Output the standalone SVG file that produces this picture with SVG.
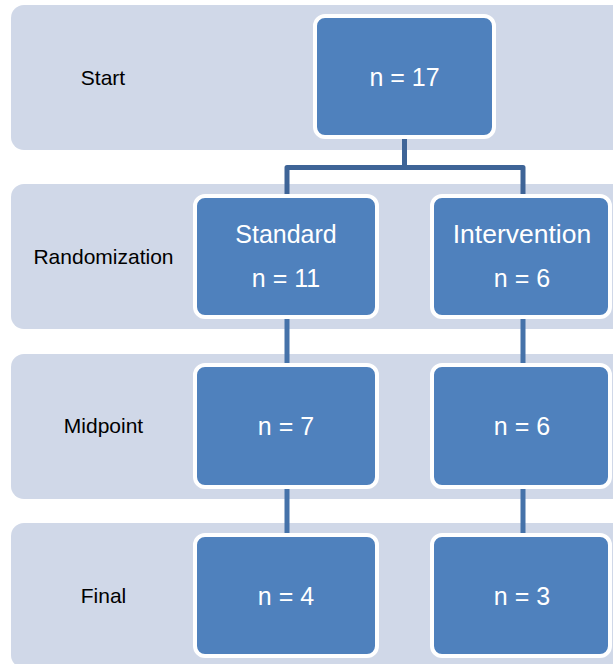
<svg xmlns="http://www.w3.org/2000/svg" width="613" height="664" viewBox="0 0 613 664">
  <style>
    .band { fill: #D0D8E8; }
    .node rect { fill: #4F81BD; stroke: #FFFFFF; stroke-width: 4; }
    .node text { fill: #FFFFFF; font-family: "Liberation Sans", Arial, sans-serif; font-size: 25px; text-anchor: middle; }
    .label { fill: #000000; font-family: "Liberation Sans", Arial, sans-serif; font-size: 21px; text-anchor: middle; }
    .conn { fill: none; stroke-width: 5; stroke-linejoin: round; }
  </style>
  <rect width="613" height="664" fill="#FFFFFF"/>
  <g id="bands">
    <rect class="band" x="11" y="5" width="630" height="145" rx="13"/>
    <rect class="band" x="11" y="184" width="630" height="145" rx="13"/>
    <rect class="band" x="11" y="354" width="630" height="145" rx="13"/>
    <rect class="band" x="11" y="523" width="630" height="145" rx="13"/>
  </g>
  <g id="labels">
    <text class="label" x="103" y="85">Start</text>
    <text class="label" x="103.5" y="264">Randomization</text>
    <text class="label" x="103.5" y="433">Midpoint</text>
    <text class="label" x="103.5" y="603">Final</text>
  </g>
  <g id="connectors">
    <path class="conn" stroke="#3E6497" d="M404.5,139 V167.5 M287,194 V167.5 H523 V194"/>
    <path class="conn" stroke="#4572A9" d="M287,319 V364 M523,319 V364 M287,489 V534 M523,489 V534"/>
  </g>
  <g id="node-start" class="node">
    <rect x="315" y="16" width="179" height="121" rx="10"/>
    <text x="404.5" y="86">n = 17</text>
  </g>
  <g id="node-standard" class="node">
    <rect x="195" y="196" width="182" height="121" rx="10"/>
    <text x="286" y="243">Standard</text>
    <text x="286" y="287">n = 11</text>
  </g>
  <g id="node-intervention" class="node">
    <rect x="432" y="196" width="178" height="121" rx="10"/>
    <text x="522" y="243" style="font-size:26.5px">Intervention</text>
    <text x="522" y="287">n = 6</text>
  </g>
  <g id="node-mid-standard" class="node">
    <rect x="195" y="365" width="182" height="122" rx="10"/>
    <text x="286" y="435">n = 7</text>
  </g>
  <g id="node-mid-intervention" class="node">
    <rect x="432" y="365" width="178" height="122" rx="10"/>
    <text x="522" y="435">n = 6</text>
  </g>
  <g id="node-final-standard" class="node">
    <rect x="195" y="535" width="182" height="121" rx="10"/>
    <text x="286" y="605">n = 4</text>
  </g>
  <g id="node-final-intervention" class="node">
    <rect x="432" y="535" width="178" height="121" rx="10"/>
    <text x="522" y="605">n = 3</text>
  </g>
</svg>
